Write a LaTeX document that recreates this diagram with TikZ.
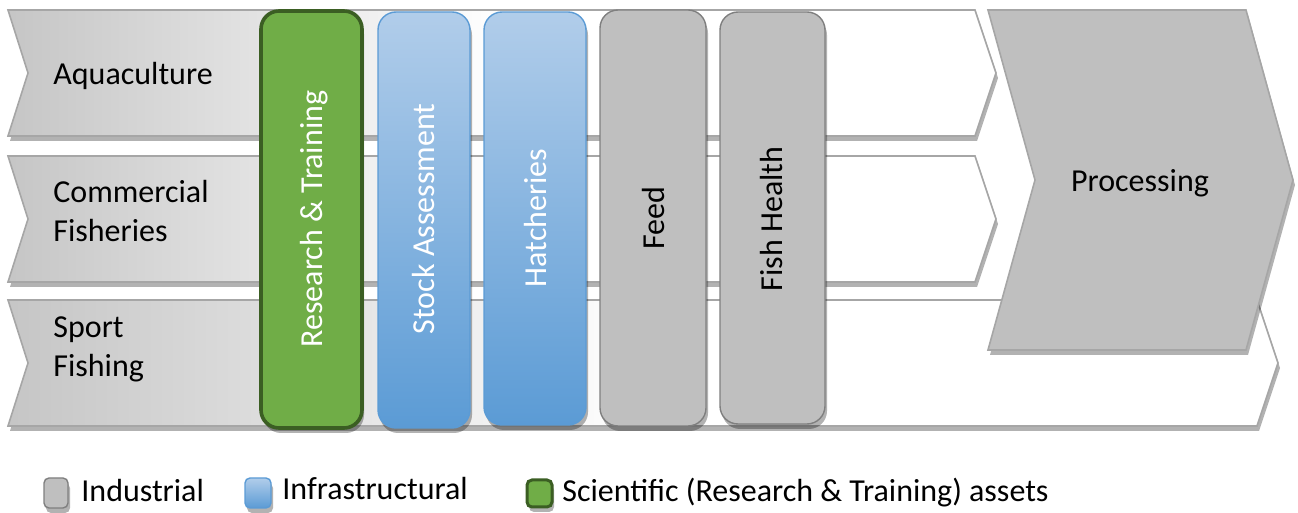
\documentclass[tikz,border=0pt]{standalone}
\usepackage{fontspec}
\setmainfont{Carlito}
\usetikzlibrary{shadows}

\definecolor{chevronline}{HTML}{A6A6A6}
\definecolor{procfill}{HTML}{BFBFBF}
\definecolor{indfill}{HTML}{BFBFBF}
\definecolor{indline}{HTML}{7F7F7F}
\definecolor{scifill}{HTML}{70AD47}
\definecolor{sciline}{HTML}{3B5E23}
\definecolor{infratop}{HTML}{B1CDEA}
\definecolor{infrabot}{HTML}{5B9BD5}
\definecolor{infraline}{HTML}{5B9BD5}

\pgfdeclarehorizontalshading{chevronfade}{100bp}{color(0bp)=(gray!45); color(25bp)=(gray!45); color(50bp)=(white); color(100bp)=(white)}
\pgfdeclareverticalshading{infrafade}{100bp}{color(0bp)=(infrabot); color(25bp)=(infrabot); color(75bp)=(infratop); color(100bp)=(infratop)}

\tikzset{
    softshadow/.style={drop shadow={shadow xshift=1pt, shadow yshift=-2.5pt, opacity=0.3, fill=black}},
    chevron/.style={draw=chevronline, line width=0.8pt, shading=chevronfade, softshadow},
    process/.style={draw=chevronline, line width=0.8pt, fill=procfill, softshadow},
    asset/.style={rounded corners=9pt, softshadow},
    industrial/.style={asset, draw=indline, line width=0.7pt, fill=indfill},
    infra/.style={asset, draw=infraline, line width=0.7pt, shading=infrafade},
    scientific/.style={asset, draw=sciline, line width=1.8pt, fill=scifill},
    keybox/.style={rounded corners=2.5pt},
    rowlabel/.style={inner sep=0pt, align=left, anchor=west},
    vlabel/.style={inner sep=0pt, rotate=90},
    keylabel/.style={inner sep=0pt, anchor=base west},
}

\begin{document}
\begin{tikzpicture}[x=0.5pt, y=-0.5pt, font=\fontsize{16}{19.5}\selectfont]
    \useasboundingbox (0,0) rectangle (1298,513);
    %% Sector chevrons
    \draw[chevron] (8,10) -- (975,10) -- (996,73) -- (975,136) -- (8,136) -- (28,73) -- cycle;
    \draw[chevron] (8,156) -- (975,156) -- (996,219) -- (975,282) -- (8,282) -- (28,219) -- cycle;
    \draw[chevron] (8,300) -- (1257,300) -- (1278,363) -- (1257,426) -- (8,426) -- (28,363) -- cycle;
    \draw[process] (988,10) -- (1246,10) -- (1293,180) -- (1246,350) -- (988,350) -- (1035,180) -- cycle;
    %% Sector labels
    \node[rowlabel] (aqua) at (53,76) {Aquaculture};
    \node[rowlabel] (comm) at (53,211) {Commercial\\Fisheries};
    \node[rowlabel] (sport) at (53,349) {Sport\\Fishing};
    \node[inner sep=0pt, anchor=base] (proc) at (1140,192) {Processing};
    %% Asset columns
    \draw[scientific] (261,11) rectangle (362,428);
    \draw[infra] (378,12) rectangle (470,428);
    \draw[infra] (484,12) rectangle (586,425);
    \draw[industrial] (600,10) rectangle (706,426);
    \draw[industrial] (720,12) rectangle (825,424);
    \node[vlabel, text=white] (research) at (314,219) {Research \& Training};
    \node[vlabel, text=white] (stock) at (424,219) {Stock Assessment};
    \node[vlabel, text=white] (hatch) at (536,218) {Hatcheries};
    \node[vlabel] (feed) at (653,218) {Feed};
    \node[vlabel] (health) at (772,219) {Fish Health};
    %% Legend
    \draw[keybox, industrial, rounded corners=2.5pt] (44,478) rectangle (68,508);
    \draw[keybox, infra, rounded corners=2.5pt] (245,478) rectangle (271,508);
    \draw[keybox, scientific, rounded corners=2.5pt, line width=1.5pt] (527,480) rectangle (552,507);
    \node[keylabel] (kind) at (81,502) {Industrial};
    \node[keylabel] (kinfra) at (282,500) {Infrastructural};
    \node[keylabel] (ksci) at (562,502) {Scientific (Research \& Training) assets};
\end{tikzpicture}
\end{document}
